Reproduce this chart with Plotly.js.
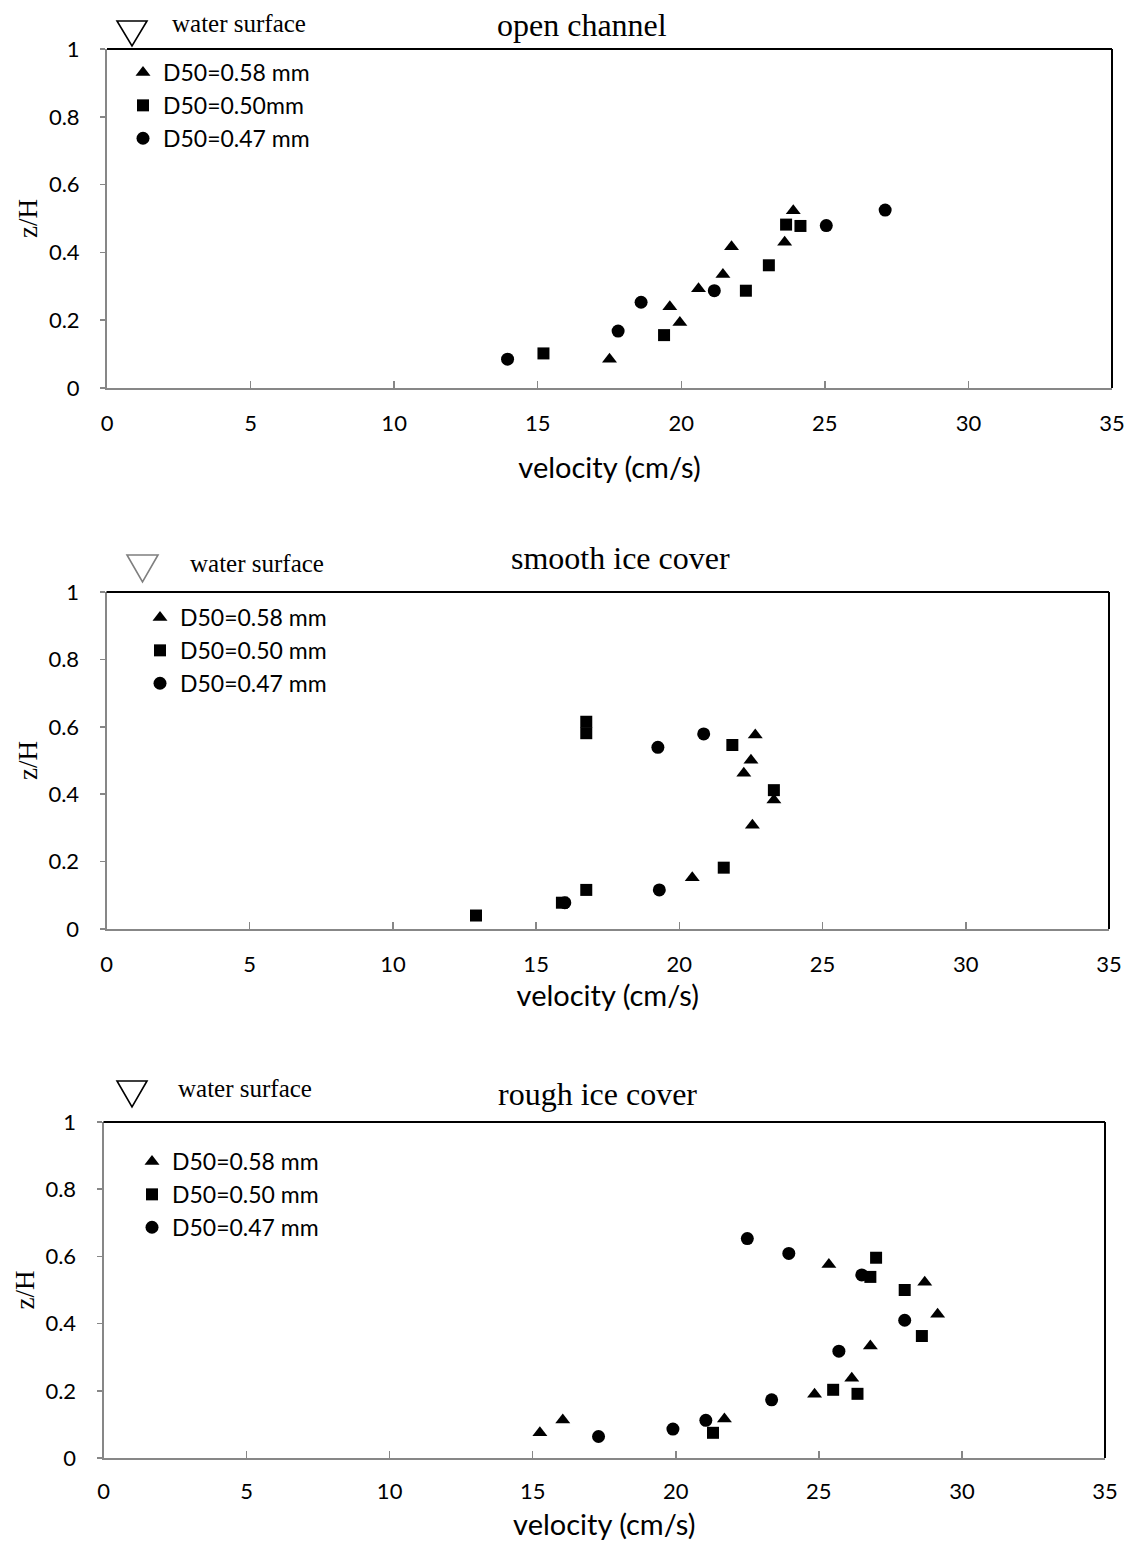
<!DOCTYPE html>
<html>
<head>
<meta charset="utf-8">
<script src="https://cdn.plot.ly/plotly-3.0.1.min.js"></script>
<style>html,body{margin:0;padding:0;background:#fff;}</style>
</head>
<body>
<div id="chart" style="width:1130px;height:1541px;"></div>
<script>
// ---------- data ----------
const panelTitles = ["open channel", "smooth ice cover", "rough ice cover"];
const seriesNamesOpen = ["D50=0.58 mm", "D50=0.50mm", "D50=0.47 mm"];
const seriesNames = ["D50=0.58 mm", "D50=0.50 mm", "D50=0.47 mm"];
const xTickVals = [0, 5, 10, 15, 20, 25, 30, 35];
const yTickVals = [0, 0.2, 0.4, 0.6, 0.8, 1];
const yTickText = ["0", "0.2", "0.4", "0.6", "0.8", "1"];

// open channel
const openTriX = [17.5, 19.6, 19.95, 20.6, 21.45, 21.75, 23.6, 23.9];
const openTriY = [0.085, 0.24, 0.193, 0.293, 0.335, 0.417, 0.43, 0.523];
const openSqX = [15.2, 19.4, 22.25, 23.05, 23.65, 24.15];
const openSqY = [0.102, 0.156, 0.287, 0.362, 0.482, 0.478];
const openCiX = [13.95, 17.8, 18.6, 21.15, 25.05, 27.1];
const openCiY = [0.085, 0.168, 0.253, 0.287, 0.479, 0.525];

// smooth ice cover
const smoothTriX = [20.45, 22.55, 22.25, 23.3, 22.5, 22.65];
const smoothTriY = [0.152, 0.308, 0.462, 0.383, 0.501, 0.576];
const smoothSqX = [12.9, 15.9, 16.75, 21.55, 23.3, 21.85, 16.75, 16.75];
const smoothSqY = [0.040, 0.078, 0.116, 0.182, 0.412, 0.546, 0.581, 0.615];
const smoothCiX = [16.0, 19.3, 19.25, 20.85];
const smoothCiY = [0.078, 0.116, 0.539, 0.579];

// rough ice cover
const roughTriX = [15.25, 16.05, 21.7, 24.85, 26.15, 26.8, 29.15, 28.7, 25.35];
const roughTriY = [0.075, 0.113, 0.116, 0.190, 0.237, 0.333, 0.428, 0.523, 0.576];
const roughSqX = [21.3, 25.5, 26.35, 28.6, 28.0, 26.8, 27.0];
const roughSqY = [0.075, 0.203, 0.191, 0.363, 0.500, 0.539, 0.596];
const roughCiX = [17.3, 19.9, 21.05, 23.35, 25.7, 28.0, 26.5, 23.95, 22.5];
const roughCiY = [0.064, 0.086, 0.112, 0.173, 0.318, 0.410, 0.545, 0.609, 0.653];

// ---------- build ----------
const W = 1130, H = 1541;
const SANS = "Lato, 'Open Sans', sans-serif";
const SERIF = "'Liberation Serif', 'DejaVu Serif', serif";

const panels = [
  {tri:[openTriX, openTriY], sq:[openSqX, openSqY], ci:[openCiX, openCiY], names: seriesNamesOpen,
   px:[107, 1112], py:[49, 388]},
  {tri:[smoothTriX, smoothTriY], sq:[smoothSqX, smoothSqY], ci:[smoothCiX, smoothCiY], names: seriesNames,
   px:[106.5, 1109], py:[592, 929]},
  {tri:[roughTriX, roughTriY], sq:[roughSqX, roughSqY], ci:[roughCiX, roughCiY], names: seriesNames,
   px:[103.5, 1105], py:[1122, 1458]}
];
const legendPos = [[123, 51], [140, 596], [132, 1140]];
const titlePos = [[582, 25], [620, 558], [597, 1094]];
const wsTextPos = [[170, 23], [188, 563], [176, 1088]];
// water-surface symbol: [left, top, width, height] in page pixels, colour
const wsBox = [[117, 21, 30, 25, "#000000"], [127, 555, 31, 27, "#7f7f7f"], [117, 1081, 30, 26, "#000000"]];
const xTitleStandoff = [22, 9, 11];
const xTickStandoff = [15, 15, 13];

const traces = [];
const layout = {
  width: W, height: H,
  margin: {l: 0, r: 0, t: 0, b: 0},
  paper_bgcolor: "#ffffff", plot_bgcolor: "#ffffff",
  showlegend: true,
  annotations: [], shapes: []
};

const symbols = ["triangle-up", "square", "circle"];
const sizes = [13, 12, 13];
const fx = v => v / W, fy = v => 1 - v / H;

panels.forEach((p, i) => {
  const n = i === 0 ? "" : String(i + 1);
  const xa = "x" + n, ya = "y" + n;
  const legId = "legend" + n;
  [p.tri, p.sq, p.ci].forEach((d, k) => {
    traces.push({
      type: "scatter", mode: "markers", x: d[0], y: d[1],
      xaxis: xa, yaxis: ya, name: p.names[k], legend: legId,
      marker: {symbol: symbols[k], size: sizes[k], color: "#000000"},
      cliponaxis: false
    });
  });

  layout["xaxis" + n] = {
    domain: [fx(p.px[0]), fx(p.px[1])], anchor: ya,
    range: [0, 35], tickvals: xTickVals, ticktext: xTickVals.map(String),
    showgrid: false, zeroline: false, showline: true, linecolor: "#878787", linewidth: 2,
    ticks: "inside", ticklen: 7, tickcolor: "#878787", tickwidth: 1.5,
    ticklabelstandoff: xTickStandoff[i],
    tickfont: {family: SANS, size: 22, color: "#000"},
    title: {text: "velocity (cm/s)", font: {family: SANS, size: 29, color: "#000"}, standoff: xTitleStandoff[i]},
    automargin: false, fixedrange: true
  };
  layout["yaxis" + n] = {
    domain: [fy(p.py[1]), fy(p.py[0])], anchor: xa,
    range: [0, 1], tickvals: yTickVals, ticktext: yTickText,
    showgrid: false, zeroline: false, showline: true, linecolor: "#878787", linewidth: 2,
    ticks: "outside", ticklen: 5, tickcolor: "#878787", tickwidth: 1.5,
    ticklabelstandoff: 16,
    tickfont: {family: SANS, size: 22, color: "#000"},
    title: {text: "z/H", font: {family: SERIF, size: 27, color: "#000"}, standoff: 3},
    automargin: false, fixedrange: true
  };
  layout[legId] = {
    x: fx(legendPos[i][0]), y: fy(legendPos[i][1]), xanchor: "left", yanchor: "top",
    xref: "paper", yref: "paper",
    bgcolor: "rgba(0,0,0,0)", borderwidth: 0,
    font: {family: SANS, size: 23, color: "#000"},
    itemwidth: 30, tracegroupgap: 0, itemsizing: "trace"
  };
  // top + right border (black)
  layout.shapes.push({type: "line", xref: xa + " domain", yref: ya + " domain", x0: 0, x1: 1, y0: 1, y1: 1,
                      line: {color: "#000", width: 2}});
  layout.shapes.push({type: "line", xref: xa + " domain", yref: ya + " domain", x0: 1, x1: 1, y0: 0, y1: 1,
                      line: {color: "#000", width: 2}});
  // water-surface symbol (open downward triangle)
  const b = wsBox[i];
  layout.shapes.push({type: "path", xref: "paper", yref: "paper",
    path: "M " + fx(b[0]) + "," + fy(b[1]) + " L " + fx(b[0] + b[2]) + "," + fy(b[1]) +
          " L " + fx(b[0] + b[2] / 2) + "," + fy(b[1] + b[3]) + " Z",
    line: {color: b[4], width: 1.6}, fillcolor: "rgba(0,0,0,0)"});
  // panel title
  layout.annotations.push({text: panelTitles[i], xref: "paper", yref: "paper",
    x: fx(titlePos[i][0]), y: fy(titlePos[i][1]), xanchor: "center", yanchor: "middle",
    showarrow: false, font: {family: SERIF, size: 32, color: "#000"}});
  layout.annotations.push({text: "water surface", xref: "paper", yref: "paper",
    x: fx(wsTextPos[i][0]), y: fy(wsTextPos[i][1]), xanchor: "left", yanchor: "middle",
    showarrow: false, font: {family: SERIF, size: 25, color: "#000"}});
});

Plotly.newPlot("chart", traces, layout, {displayModeBar: false, staticPlot: true});
</script>
</body>
</html>
